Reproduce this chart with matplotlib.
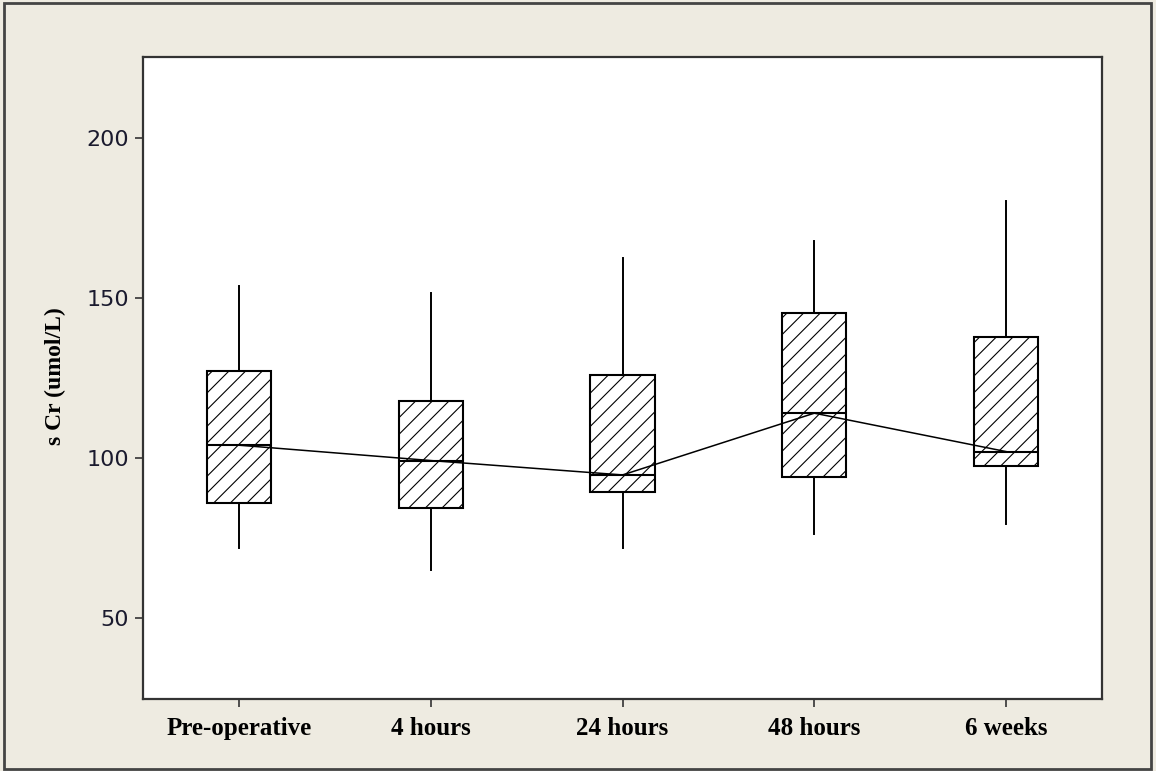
import matplotlib.pyplot as plt
from matplotlib.patches import Rectangle

# serum creatinine by time point
labels = ["Pre-operative", "4 hours", "24 hours", "48 hours", "6 weeks"]
whislo = [72.0, 65.0, 71.8, 76.2, 79.4]
q1 = [85.8, 84.5, 89.5, 94.0, 97.6]
med = [104.0, 99.2, 94.7, 114.0, 102.0]
q3 = [127.3, 117.8, 125.9, 145.2, 137.9]
whishi = [153.7, 151.7, 162.4, 167.9, 180.4]

plt.rcParams['hatch.linewidth'] = 0.8

bg = '#EEEBE1'
fig = plt.figure(figsize=(11.56, 7.71), dpi=100, facecolor=bg)
ax = fig.add_axes([0.1237, 0.0930, 0.8296, 0.8327])
ax.set_facecolor('white')

stats = []
for i, lab in enumerate(labels):
    stats.append(dict(label=lab, whislo=whislo[i], q1=q1[i], med=med[i],
                      q3=q3[i], whishi=whishi[i], fliers=[]))

pos = list(range(1, len(labels) + 1))
bp = ax.bxp(stats, positions=pos, widths=0.335, showcaps=False,
            showfliers=False, patch_artist=True,
            boxprops=dict(facecolor='white', edgecolor='black', linewidth=1.5, hatch='//'),
            whiskerprops=dict(color='black', linewidth=1.4),
            medianprops=dict(color='black', linewidth=1.5))

# line joining the medians
ax.plot(pos, med, color='black', linewidth=1.1, zorder=4)

ax.set_xlim(0.5, 5.5)
ax.set_ylim(24.6, 225.2)
ax.set_yticks([50, 100, 150, 200])
ax.set_xticks(pos)
ax.set_xticklabels(labels, fontfamily='Liberation Serif', fontweight='bold',
                   fontsize=18)
for t in ax.get_yticklabels():
    t.set_fontfamily('DejaVu Sans')
    t.set_fontsize(16)
    t.set_color('#1a1a2e')
ax.tick_params(axis='both', direction='out', length=6, width=1.2, color='#333333')
ax.tick_params(axis='x', pad=7)
ax.tick_params(axis='y', pad=4)

for s in ax.spines.values():
    s.set_color('#333333')
    s.set_linewidth(1.6)

fig.text(55 / 1156, 1 - 376 / 771, "s Cr (umol/L)", rotation=90,
         ha='center', va='center', fontfamily='Liberation Serif',
         fontweight='bold', fontsize=17)

# outer frame of the graph window
fig.patches.append(Rectangle((3.5 / 1156, 2.5 / 771), 1147 / 1156, 765.5 / 771,
                             transform=fig.transFigure, fill=False,
                             edgecolor='#444444', linewidth=2))

fig.savefig('out.png', dpi=100, facecolor=bg)
